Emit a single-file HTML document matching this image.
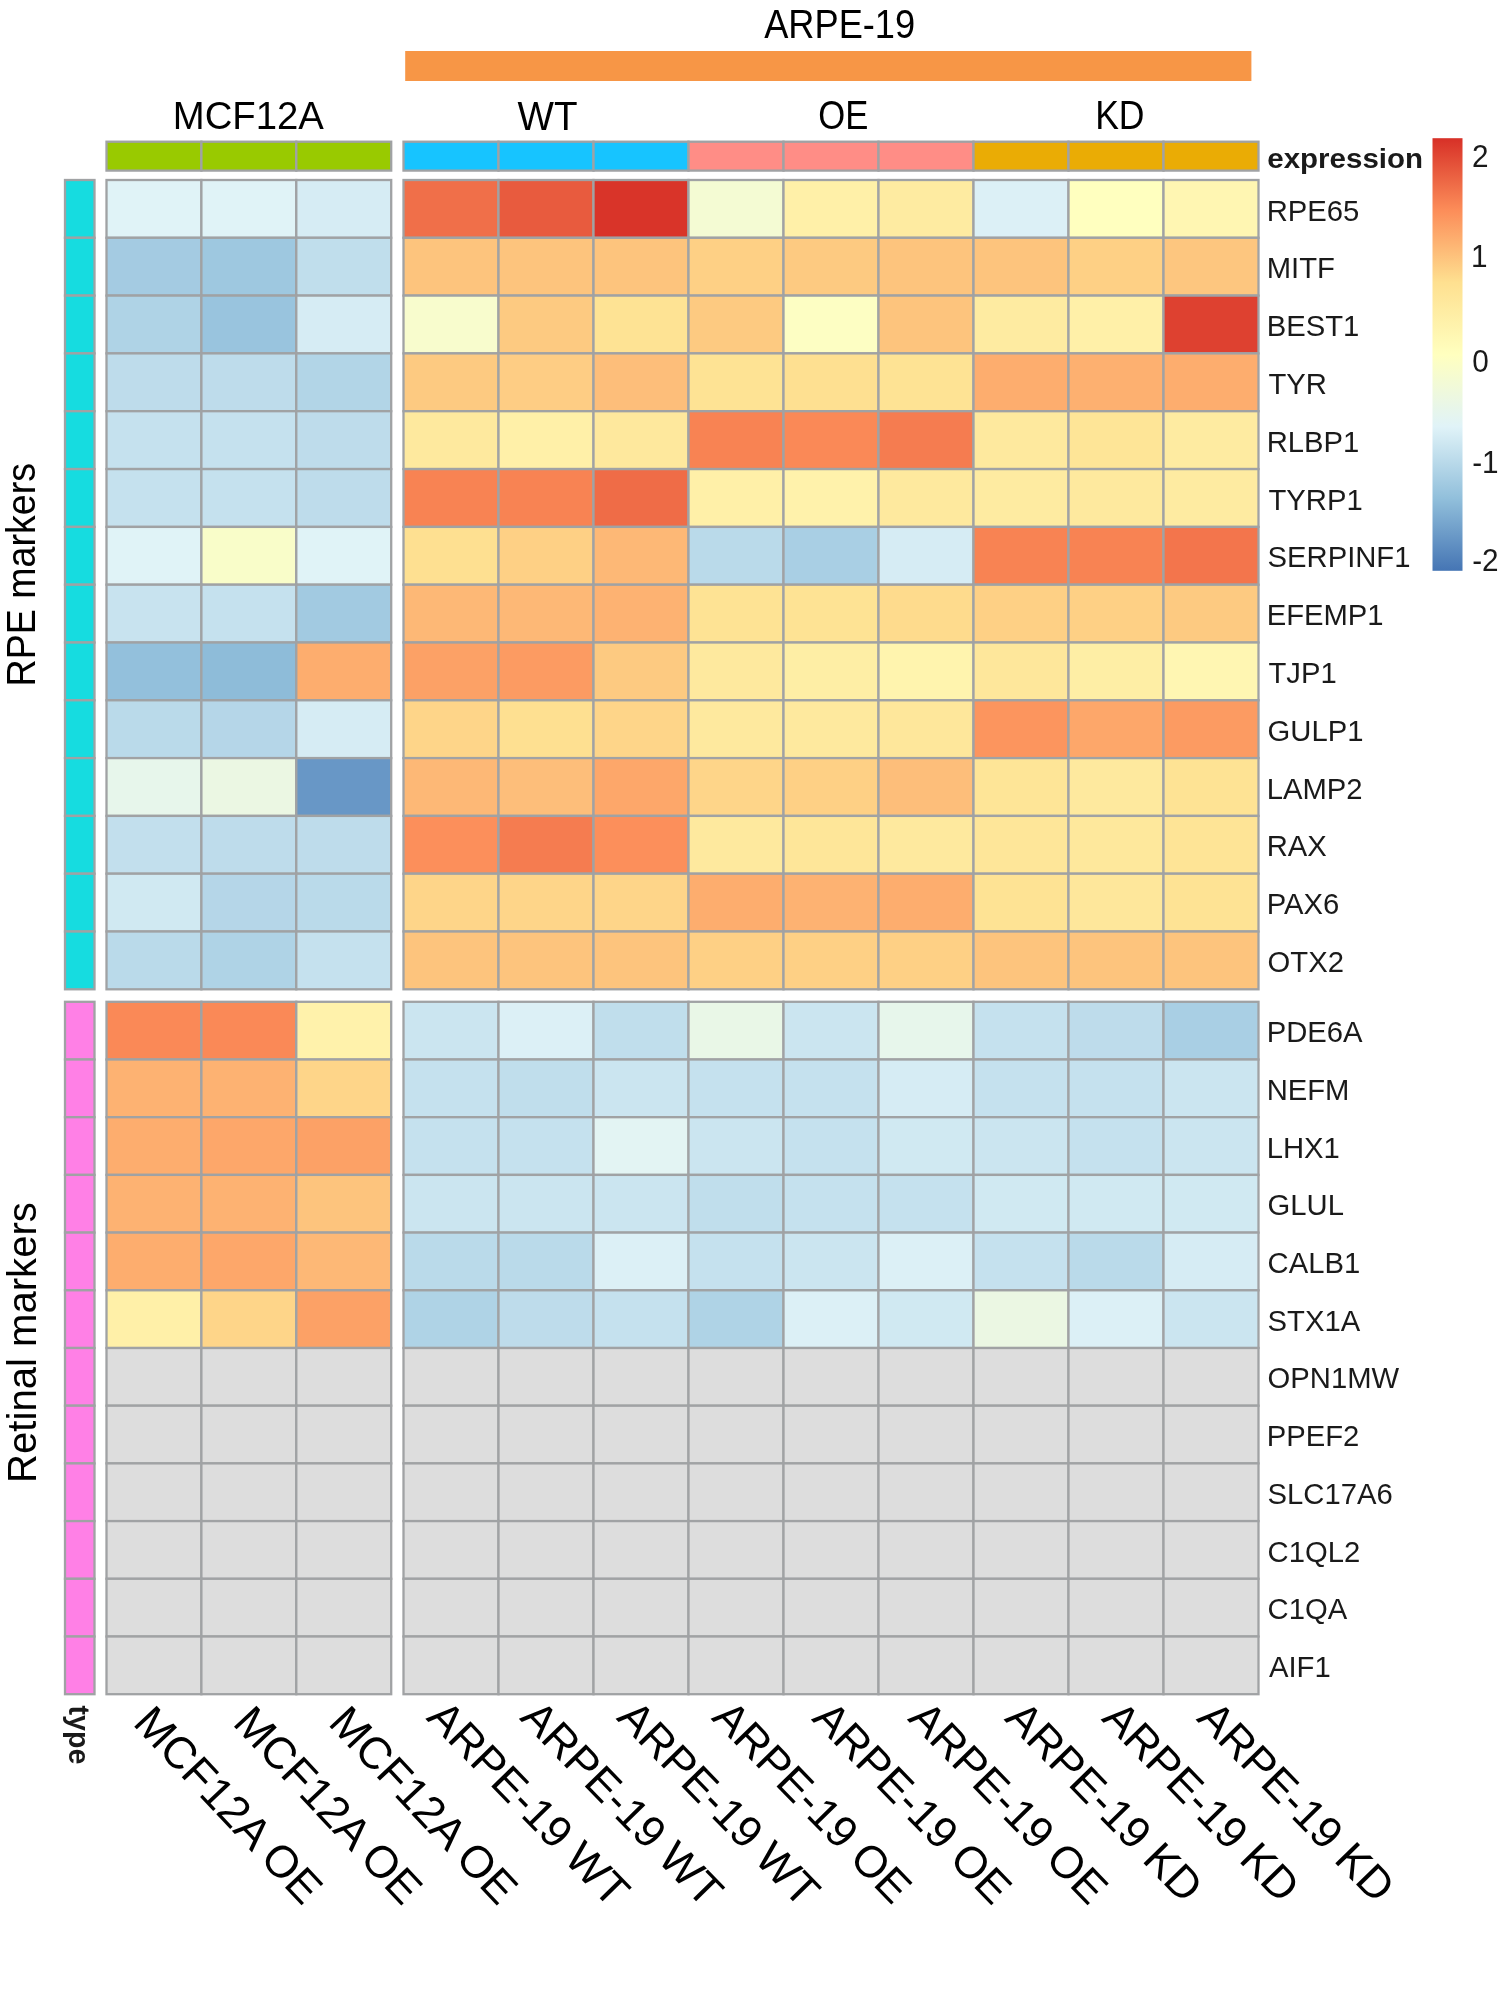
<!DOCTYPE html>
<html><head><meta charset="utf-8"><style>
html,body{margin:0;padding:0;background:#fff;}
body{width:1498px;height:1991px;overflow:hidden;position:relative;}
svg{position:absolute;left:0;top:0;will-change:transform;}
text{font-family:"Liberation Sans",sans-serif;}
</style></head><body>
<svg width="1498" height="1991" viewBox="0 0 1498 1991">
<defs><linearGradient id="lg" x1="0" y1="0" x2="0" y2="1">
<stop offset="0" stop-color="#D73027"/><stop offset="0.1667" stop-color="#FC8D59"/><stop offset="0.3333" stop-color="#FEE090"/><stop offset="0.5" stop-color="#FFFFBF"/><stop offset="0.6667" stop-color="#E0F3F8"/><stop offset="0.8333" stop-color="#91BFDB"/><stop offset="1" stop-color="#4575B4"/>
</linearGradient></defs>

<g stroke="#a0a2a4" stroke-width="2.3">
<rect x="106.5" y="180.0" width="94.9" height="57.8" fill="#e0f3f7"/>
<rect x="201.4" y="180.0" width="94.9" height="57.8" fill="#e0f3f7"/>
<rect x="296.3" y="180.0" width="94.9" height="57.8" fill="#d6ecf4"/>
<rect x="403.5" y="180.0" width="95.0" height="57.8" fill="#f06f49"/>
<rect x="498.5" y="180.0" width="95.0" height="57.8" fill="#e85b3e"/>
<rect x="593.5" y="180.0" width="95.0" height="57.8" fill="#d93429"/>
<rect x="688.5" y="180.0" width="95.0" height="57.8" fill="#f4fbd3"/>
<rect x="783.5" y="180.0" width="95.0" height="57.8" fill="#fff0a8"/>
<rect x="878.5" y="180.0" width="95.0" height="57.8" fill="#feeba1"/>
<rect x="973.5" y="180.0" width="95.0" height="57.8" fill="#dcf0f6"/>
<rect x="1068.5" y="180.0" width="95.0" height="57.8" fill="#ffffbf"/>
<rect x="1163.5" y="180.0" width="95.0" height="57.8" fill="#fff6b2"/>
<rect x="106.5" y="237.8" width="94.9" height="57.8" fill="#a4cbe2"/>
<rect x="201.4" y="237.8" width="94.9" height="57.8" fill="#9ec8e0"/>
<rect x="296.3" y="237.8" width="94.9" height="57.8" fill="#c0deec"/>
<rect x="403.5" y="237.8" width="95.0" height="57.8" fill="#fdc47d"/>
<rect x="498.5" y="237.8" width="95.0" height="57.8" fill="#fdc47d"/>
<rect x="593.5" y="237.8" width="95.0" height="57.8" fill="#fdc47d"/>
<rect x="688.5" y="237.8" width="95.0" height="57.8" fill="#fed085"/>
<rect x="783.5" y="237.8" width="95.0" height="57.8" fill="#fdca81"/>
<rect x="878.5" y="237.8" width="95.0" height="57.8" fill="#fdc47d"/>
<rect x="973.5" y="237.8" width="95.0" height="57.8" fill="#fdc47d"/>
<rect x="1068.5" y="237.8" width="95.0" height="57.8" fill="#fed085"/>
<rect x="1163.5" y="237.8" width="95.0" height="57.8" fill="#fdc67f"/>
<rect x="106.5" y="295.6" width="94.9" height="57.8" fill="#afd3e6"/>
<rect x="201.4" y="295.6" width="94.9" height="57.8" fill="#99c4de"/>
<rect x="296.3" y="295.6" width="94.9" height="57.8" fill="#d6ecf4"/>
<rect x="403.5" y="295.6" width="95.0" height="57.8" fill="#f8fccd"/>
<rect x="498.5" y="295.6" width="95.0" height="57.8" fill="#fdca81"/>
<rect x="593.5" y="295.6" width="95.0" height="57.8" fill="#fee394"/>
<rect x="688.5" y="295.6" width="95.0" height="57.8" fill="#fdca81"/>
<rect x="783.5" y="295.6" width="95.0" height="57.8" fill="#fdfec3"/>
<rect x="878.5" y="295.6" width="95.0" height="57.8" fill="#fdc47d"/>
<rect x="973.5" y="295.6" width="95.0" height="57.8" fill="#feeba1"/>
<rect x="1068.5" y="295.6" width="95.0" height="57.8" fill="#fff0a8"/>
<rect x="1163.5" y="295.6" width="95.0" height="57.8" fill="#de4130"/>
<rect x="106.5" y="353.4" width="94.9" height="57.8" fill="#bedceb"/>
<rect x="201.4" y="353.4" width="94.9" height="57.8" fill="#bedceb"/>
<rect x="296.3" y="353.4" width="94.9" height="57.8" fill="#b2d5e7"/>
<rect x="403.5" y="353.4" width="95.0" height="57.8" fill="#fdca81"/>
<rect x="498.5" y="353.4" width="95.0" height="57.8" fill="#fecd84"/>
<rect x="593.5" y="353.4" width="95.0" height="57.8" fill="#fdbe7a"/>
<rect x="688.5" y="353.4" width="95.0" height="57.8" fill="#fee394"/>
<rect x="783.5" y="353.4" width="95.0" height="57.8" fill="#fee091"/>
<rect x="878.5" y="353.4" width="95.0" height="57.8" fill="#fee394"/>
<rect x="973.5" y="353.4" width="95.0" height="57.8" fill="#fdad6e"/>
<rect x="1068.5" y="353.4" width="95.0" height="57.8" fill="#fdb070"/>
<rect x="1163.5" y="353.4" width="95.0" height="57.8" fill="#fdad6e"/>
<rect x="106.5" y="411.2" width="94.9" height="57.8" fill="#c5e1ee"/>
<rect x="201.4" y="411.2" width="94.9" height="57.8" fill="#c5e1ee"/>
<rect x="296.3" y="411.2" width="94.9" height="57.8" fill="#bedceb"/>
<rect x="403.5" y="411.2" width="95.0" height="57.8" fill="#fee99e"/>
<rect x="498.5" y="411.2" width="95.0" height="57.8" fill="#fff0a8"/>
<rect x="593.5" y="411.2" width="95.0" height="57.8" fill="#fee89d"/>
<rect x="688.5" y="411.2" width="95.0" height="57.8" fill="#f88353"/>
<rect x="783.5" y="411.2" width="95.0" height="57.8" fill="#fa8957"/>
<rect x="878.5" y="411.2" width="95.0" height="57.8" fill="#f57c50"/>
<rect x="973.5" y="411.2" width="95.0" height="57.8" fill="#fee99e"/>
<rect x="1068.5" y="411.2" width="95.0" height="57.8" fill="#fee597"/>
<rect x="1163.5" y="411.2" width="95.0" height="57.8" fill="#feeba1"/>
<rect x="106.5" y="469.1" width="94.9" height="57.8" fill="#c5e1ee"/>
<rect x="201.4" y="469.1" width="94.9" height="57.8" fill="#c5e1ee"/>
<rect x="296.3" y="469.1" width="94.9" height="57.8" fill="#bedceb"/>
<rect x="403.5" y="469.1" width="95.0" height="57.8" fill="#f88353"/>
<rect x="498.5" y="469.1" width="95.0" height="57.8" fill="#f88353"/>
<rect x="593.5" y="469.1" width="95.0" height="57.8" fill="#ef6c47"/>
<rect x="688.5" y="469.1" width="95.0" height="57.8" fill="#fff0a8"/>
<rect x="783.5" y="469.1" width="95.0" height="57.8" fill="#fff2ab"/>
<rect x="878.5" y="469.1" width="95.0" height="57.8" fill="#fee99e"/>
<rect x="973.5" y="469.1" width="95.0" height="57.8" fill="#feeba1"/>
<rect x="1068.5" y="469.1" width="95.0" height="57.8" fill="#fee99e"/>
<rect x="1163.5" y="469.1" width="95.0" height="57.8" fill="#feeba1"/>
<rect x="106.5" y="526.9" width="94.9" height="57.8" fill="#e0f3f7"/>
<rect x="201.4" y="526.9" width="94.9" height="57.8" fill="#f9fdc9"/>
<rect x="296.3" y="526.9" width="94.9" height="57.8" fill="#e0f3f7"/>
<rect x="403.5" y="526.9" width="95.0" height="57.8" fill="#fee091"/>
<rect x="498.5" y="526.9" width="95.0" height="57.8" fill="#fed085"/>
<rect x="593.5" y="526.9" width="95.0" height="57.8" fill="#fdb876"/>
<rect x="688.5" y="526.9" width="95.0" height="57.8" fill="#badaea"/>
<rect x="783.5" y="526.9" width="95.0" height="57.8" fill="#a9cfe4"/>
<rect x="878.5" y="526.9" width="95.0" height="57.8" fill="#d6ecf4"/>
<rect x="973.5" y="526.9" width="95.0" height="57.8" fill="#f88353"/>
<rect x="1068.5" y="526.9" width="95.0" height="57.8" fill="#f88353"/>
<rect x="1163.5" y="526.9" width="95.0" height="57.8" fill="#f3754c"/>
<rect x="106.5" y="584.7" width="94.9" height="57.8" fill="#c8e3ef"/>
<rect x="201.4" y="584.7" width="94.9" height="57.8" fill="#c5e1ee"/>
<rect x="296.3" y="584.7" width="94.9" height="57.8" fill="#a2cae1"/>
<rect x="403.5" y="584.7" width="95.0" height="57.8" fill="#fdb876"/>
<rect x="498.5" y="584.7" width="95.0" height="57.8" fill="#fdb876"/>
<rect x="593.5" y="584.7" width="95.0" height="57.8" fill="#fdb272"/>
<rect x="688.5" y="584.7" width="95.0" height="57.8" fill="#fee394"/>
<rect x="783.5" y="584.7" width="95.0" height="57.8" fill="#fee394"/>
<rect x="878.5" y="584.7" width="95.0" height="57.8" fill="#fedb8d"/>
<rect x="973.5" y="584.7" width="95.0" height="57.8" fill="#fed085"/>
<rect x="1068.5" y="584.7" width="95.0" height="57.8" fill="#fed085"/>
<rect x="1163.5" y="584.7" width="95.0" height="57.8" fill="#fdca81"/>
<rect x="106.5" y="642.5" width="94.9" height="57.8" fill="#93c0dc"/>
<rect x="201.4" y="642.5" width="94.9" height="57.8" fill="#8ebcd9"/>
<rect x="296.3" y="642.5" width="94.9" height="57.8" fill="#fdad6e"/>
<rect x="403.5" y="642.5" width="95.0" height="57.8" fill="#fca166"/>
<rect x="498.5" y="642.5" width="95.0" height="57.8" fill="#fc9b62"/>
<rect x="593.5" y="642.5" width="95.0" height="57.8" fill="#fdca81"/>
<rect x="688.5" y="642.5" width="95.0" height="57.8" fill="#fee99e"/>
<rect x="783.5" y="642.5" width="95.0" height="57.8" fill="#feeea5"/>
<rect x="878.5" y="642.5" width="95.0" height="57.8" fill="#fff4ae"/>
<rect x="973.5" y="642.5" width="95.0" height="57.8" fill="#fee79b"/>
<rect x="1068.5" y="642.5" width="95.0" height="57.8" fill="#feeea5"/>
<rect x="1163.5" y="642.5" width="95.0" height="57.8" fill="#fff6b2"/>
<rect x="106.5" y="700.3" width="94.9" height="57.8" fill="#badaea"/>
<rect x="201.4" y="700.3" width="94.9" height="57.8" fill="#b5d6e8"/>
<rect x="296.3" y="700.3" width="94.9" height="57.8" fill="#d6ecf4"/>
<rect x="403.5" y="700.3" width="95.0" height="57.8" fill="#fed589"/>
<rect x="498.5" y="700.3" width="95.0" height="57.8" fill="#fee091"/>
<rect x="593.5" y="700.3" width="95.0" height="57.8" fill="#fed589"/>
<rect x="688.5" y="700.3" width="95.0" height="57.8" fill="#fee99e"/>
<rect x="783.5" y="700.3" width="95.0" height="57.8" fill="#fee99e"/>
<rect x="878.5" y="700.3" width="95.0" height="57.8" fill="#fee79b"/>
<rect x="973.5" y="700.3" width="95.0" height="57.8" fill="#fc955e"/>
<rect x="1068.5" y="700.3" width="95.0" height="57.8" fill="#fda76a"/>
<rect x="1163.5" y="700.3" width="95.0" height="57.8" fill="#fc9b62"/>
<rect x="106.5" y="758.1" width="94.9" height="57.8" fill="#e7f6eb"/>
<rect x="201.4" y="758.1" width="94.9" height="57.8" fill="#ebf7e3"/>
<rect x="296.3" y="758.1" width="94.9" height="57.8" fill="#6897c6"/>
<rect x="403.5" y="758.1" width="95.0" height="57.8" fill="#fdb876"/>
<rect x="498.5" y="758.1" width="95.0" height="57.8" fill="#fdbe7a"/>
<rect x="593.5" y="758.1" width="95.0" height="57.8" fill="#fda76a"/>
<rect x="688.5" y="758.1" width="95.0" height="57.8" fill="#fed589"/>
<rect x="783.5" y="758.1" width="95.0" height="57.8" fill="#fed085"/>
<rect x="878.5" y="758.1" width="95.0" height="57.8" fill="#fdbe7a"/>
<rect x="973.5" y="758.1" width="95.0" height="57.8" fill="#fee597"/>
<rect x="1068.5" y="758.1" width="95.0" height="57.8" fill="#fee99e"/>
<rect x="1163.5" y="758.1" width="95.0" height="57.8" fill="#fee394"/>
<rect x="106.5" y="815.9" width="94.9" height="57.8" fill="#c2dfed"/>
<rect x="201.4" y="815.9" width="94.9" height="57.8" fill="#bedceb"/>
<rect x="296.3" y="815.9" width="94.9" height="57.8" fill="#bedceb"/>
<rect x="403.5" y="815.9" width="95.0" height="57.8" fill="#fc8f5b"/>
<rect x="498.5" y="815.9" width="95.0" height="57.8" fill="#f57c50"/>
<rect x="593.5" y="815.9" width="95.0" height="57.8" fill="#fc8f5b"/>
<rect x="688.5" y="815.9" width="95.0" height="57.8" fill="#fee99e"/>
<rect x="783.5" y="815.9" width="95.0" height="57.8" fill="#fee699"/>
<rect x="878.5" y="815.9" width="95.0" height="57.8" fill="#fee99e"/>
<rect x="973.5" y="815.9" width="95.0" height="57.8" fill="#fee699"/>
<rect x="1068.5" y="815.9" width="95.0" height="57.8" fill="#fee89c"/>
<rect x="1163.5" y="815.9" width="95.0" height="57.8" fill="#fee496"/>
<rect x="106.5" y="873.7" width="94.9" height="57.8" fill="#d0e9f2"/>
<rect x="201.4" y="873.7" width="94.9" height="57.8" fill="#b5d6e8"/>
<rect x="296.3" y="873.7" width="94.9" height="57.8" fill="#badaea"/>
<rect x="403.5" y="873.7" width="95.0" height="57.8" fill="#fed589"/>
<rect x="498.5" y="873.7" width="95.0" height="57.8" fill="#fed589"/>
<rect x="593.5" y="873.7" width="95.0" height="57.8" fill="#fed589"/>
<rect x="688.5" y="873.7" width="95.0" height="57.8" fill="#fdad6e"/>
<rect x="783.5" y="873.7" width="95.0" height="57.8" fill="#fdb272"/>
<rect x="878.5" y="873.7" width="95.0" height="57.8" fill="#fdad6e"/>
<rect x="973.5" y="873.7" width="95.0" height="57.8" fill="#fee394"/>
<rect x="1068.5" y="873.7" width="95.0" height="57.8" fill="#fee79b"/>
<rect x="1163.5" y="873.7" width="95.0" height="57.8" fill="#fee394"/>
<rect x="106.5" y="931.5" width="94.9" height="57.8" fill="#badaea"/>
<rect x="201.4" y="931.5" width="94.9" height="57.8" fill="#afd3e6"/>
<rect x="296.3" y="931.5" width="94.9" height="57.8" fill="#c5e1ee"/>
<rect x="403.5" y="931.5" width="95.0" height="57.8" fill="#fdc47d"/>
<rect x="498.5" y="931.5" width="95.0" height="57.8" fill="#fdc47d"/>
<rect x="593.5" y="931.5" width="95.0" height="57.8" fill="#fdc47d"/>
<rect x="688.5" y="931.5" width="95.0" height="57.8" fill="#fed085"/>
<rect x="783.5" y="931.5" width="95.0" height="57.8" fill="#fed085"/>
<rect x="878.5" y="931.5" width="95.0" height="57.8" fill="#fed085"/>
<rect x="973.5" y="931.5" width="95.0" height="57.8" fill="#fdc47d"/>
<rect x="1068.5" y="931.5" width="95.0" height="57.8" fill="#fdc47d"/>
<rect x="1163.5" y="931.5" width="95.0" height="57.8" fill="#fdc47d"/>
<rect x="106.5" y="1001.8" width="94.9" height="57.7" fill="#fa8957"/>
<rect x="201.4" y="1001.8" width="94.9" height="57.7" fill="#fa8957"/>
<rect x="296.3" y="1001.8" width="94.9" height="57.7" fill="#fff2ab"/>
<rect x="403.5" y="1001.8" width="95.0" height="57.7" fill="#cbe5f0"/>
<rect x="498.5" y="1001.8" width="95.0" height="57.7" fill="#dcf0f6"/>
<rect x="593.5" y="1001.8" width="95.0" height="57.7" fill="#c0deec"/>
<rect x="688.5" y="1001.8" width="95.0" height="57.7" fill="#e9f7e7"/>
<rect x="783.5" y="1001.8" width="95.0" height="57.7" fill="#cbe5f0"/>
<rect x="878.5" y="1001.8" width="95.0" height="57.7" fill="#e7f6eb"/>
<rect x="973.5" y="1001.8" width="95.0" height="57.7" fill="#c5e1ee"/>
<rect x="1068.5" y="1001.8" width="95.0" height="57.7" fill="#bedceb"/>
<rect x="1163.5" y="1001.8" width="95.0" height="57.7" fill="#a9cfe4"/>
<rect x="106.5" y="1059.5" width="94.9" height="57.7" fill="#fdb272"/>
<rect x="201.4" y="1059.5" width="94.9" height="57.7" fill="#fdb272"/>
<rect x="296.3" y="1059.5" width="94.9" height="57.7" fill="#fed589"/>
<rect x="403.5" y="1059.5" width="95.0" height="57.7" fill="#c5e1ee"/>
<rect x="498.5" y="1059.5" width="95.0" height="57.7" fill="#c0deec"/>
<rect x="593.5" y="1059.5" width="95.0" height="57.7" fill="#cbe5f0"/>
<rect x="688.5" y="1059.5" width="95.0" height="57.7" fill="#c5e1ee"/>
<rect x="783.5" y="1059.5" width="95.0" height="57.7" fill="#c5e1ee"/>
<rect x="878.5" y="1059.5" width="95.0" height="57.7" fill="#d6ecf4"/>
<rect x="973.5" y="1059.5" width="95.0" height="57.7" fill="#c5e1ee"/>
<rect x="1068.5" y="1059.5" width="95.0" height="57.7" fill="#c5e1ee"/>
<rect x="1163.5" y="1059.5" width="95.0" height="57.7" fill="#cbe5f0"/>
<rect x="106.5" y="1117.2" width="94.9" height="57.7" fill="#fdad6e"/>
<rect x="201.4" y="1117.2" width="94.9" height="57.7" fill="#fda76a"/>
<rect x="296.3" y="1117.2" width="94.9" height="57.7" fill="#fca166"/>
<rect x="403.5" y="1117.2" width="95.0" height="57.7" fill="#c5e1ee"/>
<rect x="498.5" y="1117.2" width="95.0" height="57.7" fill="#c5e1ee"/>
<rect x="593.5" y="1117.2" width="95.0" height="57.7" fill="#e3f4f3"/>
<rect x="688.5" y="1117.2" width="95.0" height="57.7" fill="#cbe5f0"/>
<rect x="783.5" y="1117.2" width="95.0" height="57.7" fill="#c5e1ee"/>
<rect x="878.5" y="1117.2" width="95.0" height="57.7" fill="#d0e9f2"/>
<rect x="973.5" y="1117.2" width="95.0" height="57.7" fill="#cbe5f0"/>
<rect x="1068.5" y="1117.2" width="95.0" height="57.7" fill="#c5e1ee"/>
<rect x="1163.5" y="1117.2" width="95.0" height="57.7" fill="#cbe5f0"/>
<rect x="106.5" y="1174.9" width="94.9" height="57.7" fill="#fdb272"/>
<rect x="201.4" y="1174.9" width="94.9" height="57.7" fill="#fdb272"/>
<rect x="296.3" y="1174.9" width="94.9" height="57.7" fill="#fdc47d"/>
<rect x="403.5" y="1174.9" width="95.0" height="57.7" fill="#cbe5f0"/>
<rect x="498.5" y="1174.9" width="95.0" height="57.7" fill="#cbe5f0"/>
<rect x="593.5" y="1174.9" width="95.0" height="57.7" fill="#cbe5f0"/>
<rect x="688.5" y="1174.9" width="95.0" height="57.7" fill="#c0deec"/>
<rect x="783.5" y="1174.9" width="95.0" height="57.7" fill="#c5e1ee"/>
<rect x="878.5" y="1174.9" width="95.0" height="57.7" fill="#c5e1ee"/>
<rect x="973.5" y="1174.9" width="95.0" height="57.7" fill="#d0e9f2"/>
<rect x="1068.5" y="1174.9" width="95.0" height="57.7" fill="#d0e9f2"/>
<rect x="1163.5" y="1174.9" width="95.0" height="57.7" fill="#d0e9f2"/>
<rect x="106.5" y="1232.6" width="94.9" height="57.7" fill="#fdad6e"/>
<rect x="201.4" y="1232.6" width="94.9" height="57.7" fill="#fda76a"/>
<rect x="296.3" y="1232.6" width="94.9" height="57.7" fill="#fdb876"/>
<rect x="403.5" y="1232.6" width="95.0" height="57.7" fill="#badaea"/>
<rect x="498.5" y="1232.6" width="95.0" height="57.7" fill="#badaea"/>
<rect x="593.5" y="1232.6" width="95.0" height="57.7" fill="#dcf0f6"/>
<rect x="688.5" y="1232.6" width="95.0" height="57.7" fill="#c5e1ee"/>
<rect x="783.5" y="1232.6" width="95.0" height="57.7" fill="#cbe5f0"/>
<rect x="878.5" y="1232.6" width="95.0" height="57.7" fill="#dcf0f6"/>
<rect x="973.5" y="1232.6" width="95.0" height="57.7" fill="#c5e1ee"/>
<rect x="1068.5" y="1232.6" width="95.0" height="57.7" fill="#badaea"/>
<rect x="1163.5" y="1232.6" width="95.0" height="57.7" fill="#d6ecf4"/>
<rect x="106.5" y="1290.3" width="94.9" height="57.7" fill="#fff0a8"/>
<rect x="201.4" y="1290.3" width="94.9" height="57.7" fill="#fed589"/>
<rect x="296.3" y="1290.3" width="94.9" height="57.7" fill="#fca166"/>
<rect x="403.5" y="1290.3" width="95.0" height="57.7" fill="#afd3e6"/>
<rect x="498.5" y="1290.3" width="95.0" height="57.7" fill="#bedceb"/>
<rect x="593.5" y="1290.3" width="95.0" height="57.7" fill="#c5e1ee"/>
<rect x="688.5" y="1290.3" width="95.0" height="57.7" fill="#afd3e6"/>
<rect x="783.5" y="1290.3" width="95.0" height="57.7" fill="#dcf0f6"/>
<rect x="878.5" y="1290.3" width="95.0" height="57.7" fill="#d0e9f2"/>
<rect x="973.5" y="1290.3" width="95.0" height="57.7" fill="#ebf7e3"/>
<rect x="1068.5" y="1290.3" width="95.0" height="57.7" fill="#dcf0f6"/>
<rect x="1163.5" y="1290.3" width="95.0" height="57.7" fill="#cbe5f0"/>
<rect x="106.5" y="1348.0" width="94.9" height="57.7" fill="#dddddd"/>
<rect x="201.4" y="1348.0" width="94.9" height="57.7" fill="#dddddd"/>
<rect x="296.3" y="1348.0" width="94.9" height="57.7" fill="#dddddd"/>
<rect x="403.5" y="1348.0" width="95.0" height="57.7" fill="#dddddd"/>
<rect x="498.5" y="1348.0" width="95.0" height="57.7" fill="#dddddd"/>
<rect x="593.5" y="1348.0" width="95.0" height="57.7" fill="#dddddd"/>
<rect x="688.5" y="1348.0" width="95.0" height="57.7" fill="#dddddd"/>
<rect x="783.5" y="1348.0" width="95.0" height="57.7" fill="#dddddd"/>
<rect x="878.5" y="1348.0" width="95.0" height="57.7" fill="#dddddd"/>
<rect x="973.5" y="1348.0" width="95.0" height="57.7" fill="#dddddd"/>
<rect x="1068.5" y="1348.0" width="95.0" height="57.7" fill="#dddddd"/>
<rect x="1163.5" y="1348.0" width="95.0" height="57.7" fill="#dddddd"/>
<rect x="106.5" y="1405.7" width="94.9" height="57.7" fill="#dddddd"/>
<rect x="201.4" y="1405.7" width="94.9" height="57.7" fill="#dddddd"/>
<rect x="296.3" y="1405.7" width="94.9" height="57.7" fill="#dddddd"/>
<rect x="403.5" y="1405.7" width="95.0" height="57.7" fill="#dddddd"/>
<rect x="498.5" y="1405.7" width="95.0" height="57.7" fill="#dddddd"/>
<rect x="593.5" y="1405.7" width="95.0" height="57.7" fill="#dddddd"/>
<rect x="688.5" y="1405.7" width="95.0" height="57.7" fill="#dddddd"/>
<rect x="783.5" y="1405.7" width="95.0" height="57.7" fill="#dddddd"/>
<rect x="878.5" y="1405.7" width="95.0" height="57.7" fill="#dddddd"/>
<rect x="973.5" y="1405.7" width="95.0" height="57.7" fill="#dddddd"/>
<rect x="1068.5" y="1405.7" width="95.0" height="57.7" fill="#dddddd"/>
<rect x="1163.5" y="1405.7" width="95.0" height="57.7" fill="#dddddd"/>
<rect x="106.5" y="1463.4" width="94.9" height="57.7" fill="#dddddd"/>
<rect x="201.4" y="1463.4" width="94.9" height="57.7" fill="#dddddd"/>
<rect x="296.3" y="1463.4" width="94.9" height="57.7" fill="#dddddd"/>
<rect x="403.5" y="1463.4" width="95.0" height="57.7" fill="#dddddd"/>
<rect x="498.5" y="1463.4" width="95.0" height="57.7" fill="#dddddd"/>
<rect x="593.5" y="1463.4" width="95.0" height="57.7" fill="#dddddd"/>
<rect x="688.5" y="1463.4" width="95.0" height="57.7" fill="#dddddd"/>
<rect x="783.5" y="1463.4" width="95.0" height="57.7" fill="#dddddd"/>
<rect x="878.5" y="1463.4" width="95.0" height="57.7" fill="#dddddd"/>
<rect x="973.5" y="1463.4" width="95.0" height="57.7" fill="#dddddd"/>
<rect x="1068.5" y="1463.4" width="95.0" height="57.7" fill="#dddddd"/>
<rect x="1163.5" y="1463.4" width="95.0" height="57.7" fill="#dddddd"/>
<rect x="106.5" y="1521.1" width="94.9" height="57.7" fill="#dddddd"/>
<rect x="201.4" y="1521.1" width="94.9" height="57.7" fill="#dddddd"/>
<rect x="296.3" y="1521.1" width="94.9" height="57.7" fill="#dddddd"/>
<rect x="403.5" y="1521.1" width="95.0" height="57.7" fill="#dddddd"/>
<rect x="498.5" y="1521.1" width="95.0" height="57.7" fill="#dddddd"/>
<rect x="593.5" y="1521.1" width="95.0" height="57.7" fill="#dddddd"/>
<rect x="688.5" y="1521.1" width="95.0" height="57.7" fill="#dddddd"/>
<rect x="783.5" y="1521.1" width="95.0" height="57.7" fill="#dddddd"/>
<rect x="878.5" y="1521.1" width="95.0" height="57.7" fill="#dddddd"/>
<rect x="973.5" y="1521.1" width="95.0" height="57.7" fill="#dddddd"/>
<rect x="1068.5" y="1521.1" width="95.0" height="57.7" fill="#dddddd"/>
<rect x="1163.5" y="1521.1" width="95.0" height="57.7" fill="#dddddd"/>
<rect x="106.5" y="1578.8" width="94.9" height="57.7" fill="#dddddd"/>
<rect x="201.4" y="1578.8" width="94.9" height="57.7" fill="#dddddd"/>
<rect x="296.3" y="1578.8" width="94.9" height="57.7" fill="#dddddd"/>
<rect x="403.5" y="1578.8" width="95.0" height="57.7" fill="#dddddd"/>
<rect x="498.5" y="1578.8" width="95.0" height="57.7" fill="#dddddd"/>
<rect x="593.5" y="1578.8" width="95.0" height="57.7" fill="#dddddd"/>
<rect x="688.5" y="1578.8" width="95.0" height="57.7" fill="#dddddd"/>
<rect x="783.5" y="1578.8" width="95.0" height="57.7" fill="#dddddd"/>
<rect x="878.5" y="1578.8" width="95.0" height="57.7" fill="#dddddd"/>
<rect x="973.5" y="1578.8" width="95.0" height="57.7" fill="#dddddd"/>
<rect x="1068.5" y="1578.8" width="95.0" height="57.7" fill="#dddddd"/>
<rect x="1163.5" y="1578.8" width="95.0" height="57.7" fill="#dddddd"/>
<rect x="106.5" y="1636.5" width="94.9" height="57.7" fill="#dddddd"/>
<rect x="201.4" y="1636.5" width="94.9" height="57.7" fill="#dddddd"/>
<rect x="296.3" y="1636.5" width="94.9" height="57.7" fill="#dddddd"/>
<rect x="403.5" y="1636.5" width="95.0" height="57.7" fill="#dddddd"/>
<rect x="498.5" y="1636.5" width="95.0" height="57.7" fill="#dddddd"/>
<rect x="593.5" y="1636.5" width="95.0" height="57.7" fill="#dddddd"/>
<rect x="688.5" y="1636.5" width="95.0" height="57.7" fill="#dddddd"/>
<rect x="783.5" y="1636.5" width="95.0" height="57.7" fill="#dddddd"/>
<rect x="878.5" y="1636.5" width="95.0" height="57.7" fill="#dddddd"/>
<rect x="973.5" y="1636.5" width="95.0" height="57.7" fill="#dddddd"/>
<rect x="1068.5" y="1636.5" width="95.0" height="57.7" fill="#dddddd"/>
<rect x="1163.5" y="1636.5" width="95.0" height="57.7" fill="#dddddd"/>
<rect x="106.5" y="141.7" width="94.9" height="28.9" fill="#99ca00"/>
<rect x="201.4" y="141.7" width="94.9" height="28.9" fill="#99ca00"/>
<rect x="296.3" y="141.7" width="94.9" height="28.9" fill="#99ca00"/>
<rect x="403.5" y="141.7" width="95.0" height="28.9" fill="#17c4ff"/>
<rect x="498.5" y="141.7" width="95.0" height="28.9" fill="#17c4ff"/>
<rect x="593.5" y="141.7" width="95.0" height="28.9" fill="#17c4ff"/>
<rect x="688.5" y="141.7" width="95.0" height="28.9" fill="#ff8d86"/>
<rect x="783.5" y="141.7" width="95.0" height="28.9" fill="#ff8d86"/>
<rect x="878.5" y="141.7" width="95.0" height="28.9" fill="#ff8d86"/>
<rect x="973.5" y="141.7" width="95.0" height="28.9" fill="#eaac05"/>
<rect x="1068.5" y="141.7" width="95.0" height="28.9" fill="#eaac05"/>
<rect x="1163.5" y="141.7" width="95.0" height="28.9" fill="#eaac05"/>
<rect x="65" y="180.0" width="29.5" height="57.8" fill="#16dce0"/>
<rect x="65" y="237.8" width="29.5" height="57.8" fill="#16dce0"/>
<rect x="65" y="295.6" width="29.5" height="57.8" fill="#16dce0"/>
<rect x="65" y="353.4" width="29.5" height="57.8" fill="#16dce0"/>
<rect x="65" y="411.2" width="29.5" height="57.8" fill="#16dce0"/>
<rect x="65" y="469.1" width="29.5" height="57.8" fill="#16dce0"/>
<rect x="65" y="526.9" width="29.5" height="57.8" fill="#16dce0"/>
<rect x="65" y="584.7" width="29.5" height="57.8" fill="#16dce0"/>
<rect x="65" y="642.5" width="29.5" height="57.8" fill="#16dce0"/>
<rect x="65" y="700.3" width="29.5" height="57.8" fill="#16dce0"/>
<rect x="65" y="758.1" width="29.5" height="57.8" fill="#16dce0"/>
<rect x="65" y="815.9" width="29.5" height="57.8" fill="#16dce0"/>
<rect x="65" y="873.7" width="29.5" height="57.8" fill="#16dce0"/>
<rect x="65" y="931.5" width="29.5" height="57.8" fill="#16dce0"/>
<rect x="65" y="1001.8" width="29.5" height="57.7" fill="#ff80e6"/>
<rect x="65" y="1059.5" width="29.5" height="57.7" fill="#ff80e6"/>
<rect x="65" y="1117.2" width="29.5" height="57.7" fill="#ff80e6"/>
<rect x="65" y="1174.9" width="29.5" height="57.7" fill="#ff80e6"/>
<rect x="65" y="1232.6" width="29.5" height="57.7" fill="#ff80e6"/>
<rect x="65" y="1290.3" width="29.5" height="57.7" fill="#ff80e6"/>
<rect x="65" y="1348.0" width="29.5" height="57.7" fill="#ff80e6"/>
<rect x="65" y="1405.7" width="29.5" height="57.7" fill="#ff80e6"/>
<rect x="65" y="1463.4" width="29.5" height="57.7" fill="#ff80e6"/>
<rect x="65" y="1521.1" width="29.5" height="57.7" fill="#ff80e6"/>
<rect x="65" y="1578.8" width="29.5" height="57.7" fill="#ff80e6"/>
<rect x="65" y="1636.5" width="29.5" height="57.7" fill="#ff80e6"/>
</g>
<rect x="405.2" y="51" width="846.2" height="30" fill="#f79646"/>
<rect x="1432.5" y="138.2" width="30" height="432.6" fill="url(#lg)"/>
<text font-size="39.86" font-weight="normal" fill="#000" transform="translate(764.20,37.80) scale(0.9085,1)">ARPE-19</text>
<text font-size="39.44" font-weight="normal" fill="#000" transform="translate(172.84,128.71) scale(0.9709,1)">MCF12A</text>
<text font-size="40.58" font-weight="normal" fill="#000" transform="translate(517.51,130.00) scale(0.9517,1)">WT</text>
<text font-size="40.42" font-weight="normal" fill="#000" transform="translate(818.27,129.00) scale(0.8576,1)">OE</text>
<text font-size="40.58" font-weight="normal" fill="#000" transform="translate(1095.16,129.00) scale(0.8762,1)">KD</text>
<text font-size="30.3" fill="#1a1a1a" transform="translate(1266.66,220.50) scale(0.965,1)">RPE65</text>
<text font-size="30.3" fill="#1a1a1a" transform="translate(1266.66,278.32) scale(0.965,1)">MITF</text>
<text font-size="30.3" fill="#1a1a1a" transform="translate(1266.66,336.12) scale(0.965,1)">BEST1</text>
<text font-size="30.3" fill="#1a1a1a" transform="translate(1268.42,393.94) scale(0.965,1)">TYR</text>
<text font-size="30.3" fill="#1a1a1a" transform="translate(1266.66,451.75) scale(0.965,1)">RLBP1</text>
<text font-size="30.3" fill="#1a1a1a" transform="translate(1268.42,509.56) scale(0.965,1)">TYRP1</text>
<text font-size="30.3" fill="#1a1a1a" transform="translate(1267.54,567.37) scale(0.965,1)">SERPINF1</text>
<text font-size="30.3" fill="#1a1a1a" transform="translate(1266.66,625.18) scale(0.965,1)">EFEMP1</text>
<text font-size="30.3" fill="#1a1a1a" transform="translate(1268.42,682.99) scale(0.965,1)">TJP1</text>
<text font-size="30.3" fill="#1a1a1a" transform="translate(1267.54,740.79) scale(0.965,1)">GULP1</text>
<text font-size="30.3" fill="#1a1a1a" transform="translate(1266.66,798.61) scale(0.965,1)">LAMP2</text>
<text font-size="30.3" fill="#1a1a1a" transform="translate(1266.66,856.42) scale(0.965,1)">RAX</text>
<text font-size="30.3" fill="#1a1a1a" transform="translate(1266.66,914.23) scale(0.965,1)">PAX6</text>
<text font-size="30.3" fill="#1a1a1a" transform="translate(1267.54,972.03) scale(0.965,1)">OTX2</text>
<text font-size="30.3" fill="#1a1a1a" transform="translate(1266.66,1042.25) scale(0.965,1)">PDE6A</text>
<text font-size="30.3" fill="#1a1a1a" transform="translate(1266.66,1099.95) scale(0.965,1)">NEFM</text>
<text font-size="30.3" fill="#1a1a1a" transform="translate(1266.66,1157.65) scale(0.965,1)">LHX1</text>
<text font-size="30.3" fill="#1a1a1a" transform="translate(1267.54,1215.35) scale(0.965,1)">GLUL</text>
<text font-size="30.3" fill="#1a1a1a" transform="translate(1267.54,1273.05) scale(0.965,1)">CALB1</text>
<text font-size="30.3" fill="#1a1a1a" transform="translate(1267.54,1330.75) scale(0.965,1)">STX1A</text>
<text font-size="30.3" fill="#1a1a1a" transform="translate(1267.54,1388.45) scale(0.965,1)">OPN1MW</text>
<text font-size="30.3" fill="#1a1a1a" transform="translate(1266.66,1446.15) scale(0.965,1)">PPEF2</text>
<text font-size="30.3" fill="#1a1a1a" transform="translate(1267.54,1503.85) scale(0.965,1)">SLC17A6</text>
<text font-size="30.3" fill="#1a1a1a" transform="translate(1267.54,1561.55) scale(0.965,1)">C1QL2</text>
<text font-size="30.3" fill="#1a1a1a" transform="translate(1267.54,1619.25) scale(0.965,1)">C1QA</text>
<text font-size="30.3" fill="#1a1a1a" transform="translate(1269.00,1676.95) scale(0.965,1)">AIF1</text>
<text font-size="28.40" font-weight="bold" fill="#1a1a1a" transform="translate(1267.32,168.34) scale(1.0385,1)">expression</text>
<text font-size="30.8" fill="#1a1a1a" transform="translate(1471.91,167.40) scale(0.965,1)">2</text>
<text font-size="30.8" fill="#1a1a1a" transform="translate(1471.02,267.20) scale(0.965,1)">1</text>
<text font-size="30.8" fill="#1a1a1a" transform="translate(1472.21,371.50) scale(0.965,1)">0</text>
<text font-size="30.8" fill="#1a1a1a" transform="translate(1472.21,473.20) scale(0.965,1)">-1</text>
<text font-size="30.8" fill="#1a1a1a" transform="translate(1472.21,570.80) scale(0.965,1)">-2</text>
<text font-size="40.54" font-weight="normal" transform="translate(35.49,686.51) rotate(-90) scale(0.9279,1)">RPE markers</text>
<text font-size="40.14" font-weight="normal" transform="translate(35.70,1482.91) rotate(-90) scale(0.9995,1)">Retinal markers</text>
<text font-size="29.42" font-weight="bold" fill="#1a1a1a" transform="translate(69.48,1705.51) rotate(90) scale(0.9724,1)">type</text>
<text font-size="44.60" font-weight="normal" fill="#000" transform="translate(134.20,1726.50) rotate(46.9) scale(1.0000,1) translate(-3.57,0)">MCF12A OE</text>
<text font-size="44.60" font-weight="normal" fill="#000" transform="translate(234.00,1726.70) rotate(46.9) scale(1.0000,1) translate(-3.57,0)">MCF12A OE</text>
<text font-size="44.60" font-weight="normal" fill="#000" transform="translate(329.50,1726.70) rotate(46.9) scale(1.0000,1) translate(-3.57,0)">MCF12A OE</text>
<text font-size="44.30" font-weight="normal" fill="#000" transform="translate(425.30,1718.80) rotate(45.8) scale(1.0000,1) translate(0.00,0)">ARPE-19 WT</text>
<text font-size="44.30" font-weight="normal" fill="#000" transform="translate(518.70,1718.80) rotate(45.8) scale(1.0000,1) translate(0.00,0)">ARPE-19 WT</text>
<text font-size="44.30" font-weight="normal" fill="#000" transform="translate(615.50,1718.80) rotate(45.8) scale(1.0000,1) translate(0.00,0)">ARPE-19 WT</text>
<text font-size="44.30" font-weight="normal" fill="#000" transform="translate(710.60,1718.80) rotate(45.8) scale(1.0000,1) translate(0.00,0)">ARPE-19 OE</text>
<text font-size="44.30" font-weight="normal" fill="#000" transform="translate(810.70,1719.50) rotate(45.8) scale(1.0000,1) translate(0.00,0)">ARPE-19 OE</text>
<text font-size="44.30" font-weight="normal" fill="#000" transform="translate(906.80,1719.50) rotate(45.8) scale(1.0000,1) translate(0.00,0)">ARPE-19 OE</text>
<text font-size="44.30" font-weight="normal" fill="#000" transform="translate(1003.60,1719.50) rotate(45.8) scale(1.0000,1) translate(0.00,0)">ARPE-19 KD</text>
<text font-size="44.30" font-weight="normal" fill="#000" transform="translate(1100.40,1719.50) rotate(45.8) scale(1.0000,1) translate(0.00,0)">ARPE-19 KD</text>
<text font-size="44.30" font-weight="normal" fill="#000" transform="translate(1195.50,1719.50) rotate(45.8) scale(1.0000,1) translate(0.00,0)">ARPE-19 KD</text>
</svg></body></html>
